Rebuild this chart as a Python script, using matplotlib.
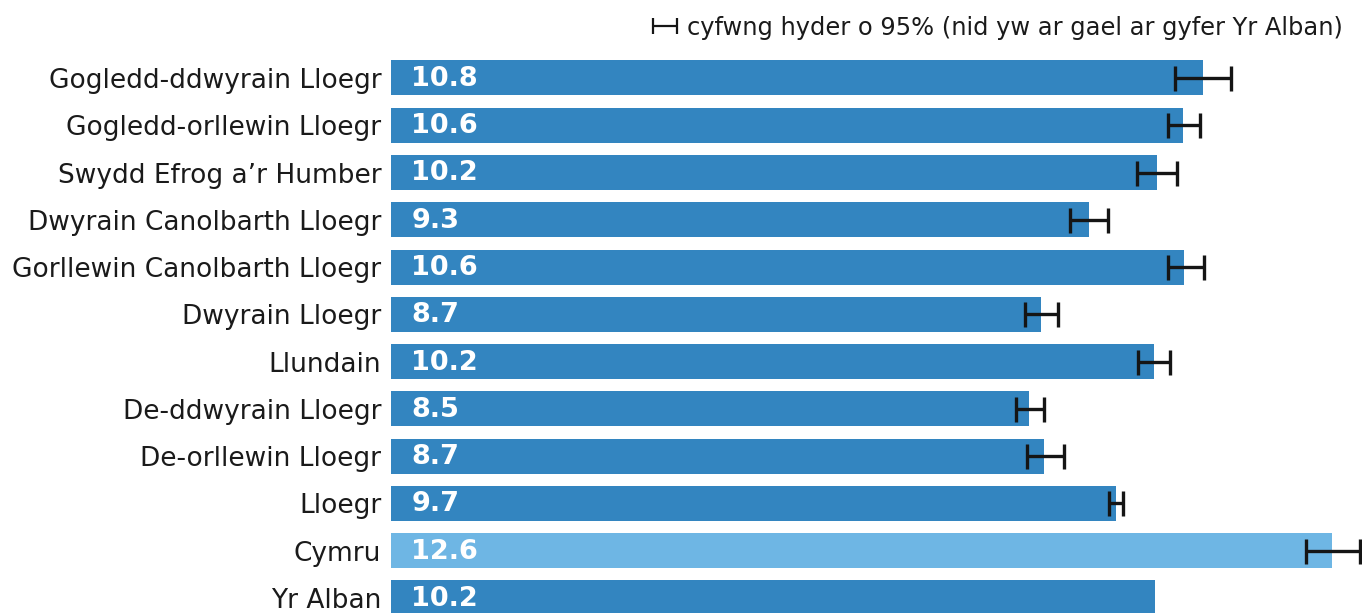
# -*- coding: utf-8 -*-

import matplotlib.pyplot as plt

# ---------------------------------------------------------------
# DATA

regions = ['Gogledd-ddwyrain Lloegr', 'Gogledd-orllewin Lloegr',
           'Swydd Efrog a\u2019r Humber', 'Dwyrain Canolbarth Lloegr',
           'Gorllewin Canolbarth Lloegr', 'Dwyrain Lloegr', 'Llundain',
           'De-ddwyrain Lloegr', 'De-orllewin Lloegr', 'Lloegr',
           'Cymru', 'Yr Alban']
values = [10.83, 10.56, 10.22, 9.31, 10.58, 8.67, 10.18, 8.51, 8.71,
          9.67, 12.55, 10.19]
ci_low = [10.46, 10.36, 9.95, 9.06, 10.36, 8.46, 9.96, 8.34, 8.48,
          9.57, 12.20, None]
ci_high = [11.20, 10.79, 10.48, 9.56, 10.84, 8.89, 10.39, 8.71, 8.98,
           9.76, 12.92, None]
highlight = 'Cymru'

legend_text = 'cyfwng hyder o 95% (nid yw ar gael ar gyfer Yr Alban)'

# ---------------------------------------------------------------
# PLOT

dark = '#3385c0'
light = '#6eb6e4'

fig = plt.figure(figsize=(13.62, 6.13), dpi=100)
ax = fig.add_axes([391 / 1362, 0, 1 - 391 / 1362, 1])

pos = list(range(len(regions)))
colors = [light if r == highlight else dark for r in regions]
ax.barh(pos, values, height=0.74, color=colors)

# Cyfyngau hyder
for i, (lo, hi, v) in enumerate(zip(ci_low, ci_high, values)):
    if lo is None:
        continue
    ax.errorbar(v, i, xerr=[[v - lo], [hi - v]], fmt='none',
                ecolor='#151515', elinewidth=2.4, capsize=9, capthick=2.4)

# Eicon yr allwedd (cudd ar yr echelin)
handle = ax.errorbar([-5], [-5], xerr=[1], fmt='none', ecolor='#151515',
                     elinewidth=1.6, capsize=6, capthick=1.6)

# Labeli gwerth
for i, v in enumerate(values):
    ax.text(0.27, i + 0.02, f'{v:.1f}', color='white', fontweight='bold',
            fontsize=19.5, va='center', ha='left')

ax.set_xlim(0, (1362 - 391) / 74.98)
ax.set_ylim(11.32, -1.65)
ax.set_yticks(pos)
ax.set_yticklabels(regions, fontsize=19, color='#1a1a1a')
ax.tick_params(axis='y', length=0, pad=7)
ax.set_xticks([])
for s in ax.spines.values():
    s.set_visible(False)

fig.legend([handle], [legend_text], loc='upper right',
           bbox_to_anchor=(1.002, 1.01), frameon=False, fontsize=17.4,
           handlelength=1.2, handletextpad=0.3, labelcolor='#1a1a1a')

fig.savefig('out.png', dpi=100)
